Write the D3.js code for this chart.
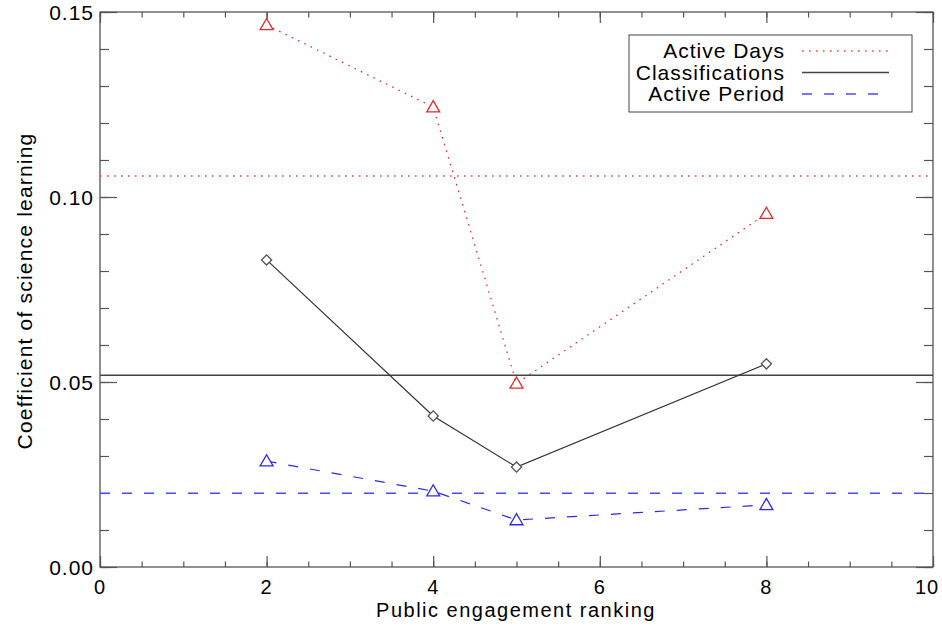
<!DOCTYPE html>
<html><head><meta charset="utf-8">
<script src="https://cdn.jsdelivr.net/npm/d3@7"></script>
<style>body{margin:0;background:#fff}svg{display:block}text{font-family:"Liberation Sans",Arial,sans-serif;fill:#000;letter-spacing:1px}</style>
</head><body><svg id="c" width="942" height="627"></svg>
<script>
const ranks = [2, 4, 5, 8];
const activeDays = [0.1465, 0.1243, 0.0496, 0.0955];
const classifications = [0.0830, 0.0408, 0.0270, 0.0549];
const activePeriod = [0.0286, 0.0205, 0.0127, 0.0168];
const meanActiveDays = 0.1057;
const meanClassifications = 0.0518;
const meanActivePeriod = 0.0199;
const xTicks = [0, 2, 4, 6, 8, 10];
const yTicks = [0.00, 0.05, 0.10, 0.15];
const legendLabels = ["Active Days", "Classifications", "Active Period"];

const svg = d3.select("#c");
const L = 100, R = 933, T = 12, B = 567;
const x = d3.scaleLinear().domain([0, 10]).range([L, R]);
const y = d3.scaleLinear().domain([0, 0.15]).range([B, T]);
const axisCol = "#555";

svg.append("rect").attr("x", L).attr("y", T).attr("width", R - L).attr("height", B - T)
  .attr("fill", "none").attr("stroke", axisCol).attr("stroke-width", 1.3);

const xMinor = d3.range(0, 10.01, 0.5);
const yMinor = d3.range(0, 0.1501, 0.01);
function styleAxis(g){ g.select(".domain").remove(); g.selectAll("line").attr("stroke", axisCol).attr("stroke-width", 1.2); }
svg.append("g").attr("transform", `translate(0,${B})`)
  .call(d3.axisTop(x).tickValues(xMinor).tickSize(5.5).tickFormat("")).call(styleAxis);
svg.append("g").attr("transform", `translate(0,${B})`)
  .call(d3.axisTop(x).tickValues(xTicks).tickSize(11).tickFormat("")).call(styleAxis);
svg.append("g").attr("transform", `translate(0,${T})`)
  .call(d3.axisBottom(x).tickValues(xMinor).tickSize(5.5).tickFormat("")).call(styleAxis);
svg.append("g").attr("transform", `translate(0,${T})`)
  .call(d3.axisBottom(x).tickValues(xTicks).tickSize(11).tickFormat("")).call(styleAxis);
svg.append("g").attr("transform", `translate(${L},0)`)
  .call(d3.axisRight(y).tickValues(yMinor).tickSize(9).tickFormat("")).call(styleAxis);
svg.append("g").attr("transform", `translate(${L},0)`)
  .call(d3.axisRight(y).tickValues(yTicks).tickSize(17).tickFormat("")).call(styleAxis);
svg.append("g").attr("transform", `translate(${R},0)`)
  .call(d3.axisLeft(y).tickValues(yMinor).tickSize(9).tickFormat("")).call(styleAxis);
svg.append("g").attr("transform", `translate(${R},0)`)
  .call(d3.axisLeft(y).tickValues(yTicks).tickSize(17).tickFormat("")).call(styleAxis);

svg.selectAll(".xl").data(xTicks).join("text").attr("x", d => Math.min(x(d), 927)).attr("y", 594)
  .attr("text-anchor", "middle").attr("font-size", 20).text(d => d);
svg.selectAll(".yl").data(yTicks).join("text").attr("x", 94).attr("y", d => y(d) + 7.5)
  .attr("text-anchor", "end").attr("font-size", 21).text(d => d3.format(".2f")(d));

svg.append("text").attr("x", 516).attr("y", 617).attr("text-anchor", "middle").attr("font-size", 20)
  .style("letter-spacing", "1.5px").text("Public engagement ranking");
svg.append("text").attr("transform", "translate(32,291) rotate(-90)").attr("text-anchor", "middle")
  .attr("font-size", 21).style("letter-spacing", "1.2px").text("Coefficient of science learning");

const red = "#e8262a", blue = "#2a2af0", black = "#333";
const series = [
  {vals: activeDays, mean: meanActiveDays, col: red, dash: "1.6,5.4", sym: "tri", lineCol: "#ee4444"},
  {vals: classifications, mean: meanClassifications, col: black, dash: null, sym: "dia", lineCol: "#444"},
  {vals: activePeriod, mean: meanActivePeriod, col: blue, dash: "10,12", sym: "tri", lineCol: "#4a4aff"}
];

series.forEach(s => {
  svg.append("line").attr("x1", L).attr("x2", R).attr("y1", y(s.mean)).attr("y2", y(s.mean))
    .attr("stroke", s.lineCol).attr("stroke-width", 1.5).attr("stroke-dasharray", s.dash);
});

const line = d3.line().x(d => x(d[0])).y(d => y(d[1]));
series.forEach(s => {
  const pts = ranks.map((r, i) => [r, s.vals[i]]);
  svg.append("path").attr("d", line(pts)).attr("fill", "none").attr("stroke", s.col)
    .attr("stroke-width", 1.2).attr("stroke-dasharray", s.dash);
  const symType = s.sym === "tri" ? d3.symbolTriangle : d3.symbolSquare;
  svg.selectAll(null).data(pts).join("path")
    .attr("transform", d => `translate(${x(d[0])},${y(d[1])})` + (s.sym === "dia" ? " rotate(45)" : "") + (s.sym === "tri" ? " translate(0,1)" : ""))
    .attr("d", d3.symbol().type(symType).size(s.sym === "tri" ? 72 : 52))
    .attr("fill", "#fff").attr("stroke", s.sym === "dia" ? "#555" : s.col).attr("stroke-width", 1.3);
});

svg.append("rect").attr("x", 629).attr("y", 35).attr("width", 283).attr("height", 77)
  .attr("fill", "#fff").attr("stroke", "#444").attr("stroke-width", 1);
legendLabels.forEach((lab, i) => {
  const cy = 51 + i * 21.5;
  svg.append("text").attr("x", 785).attr("y", cy + 7).attr("text-anchor", "end").attr("font-size", 21).text(lab);
  svg.append("line").attr("x1", 802).attr("x2", 889).attr("y1", cy).attr("y2", cy)
    .attr("stroke", series[i].lineCol).attr("stroke-width", 1.4).attr("stroke-dasharray", series[i].dash);
});
</script></body></html>
